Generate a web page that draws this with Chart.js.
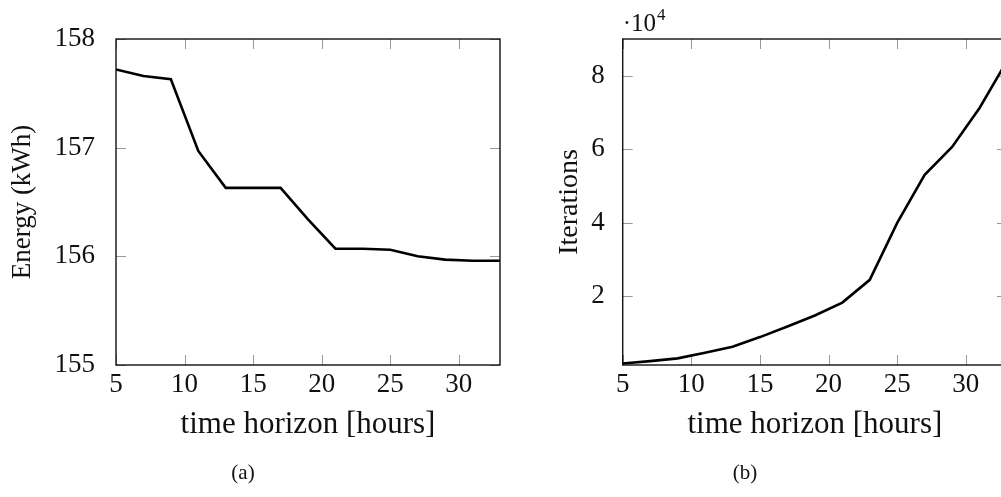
<!DOCTYPE html>
<html>
<head>
<meta charset="utf-8">
<script src="https://cdn.jsdelivr.net/npm/chart.js@4.4.1/dist/chart.umd.min.js"></script>
<style>
  html, body { margin: 0; padding: 0; background: #fff; overflow: hidden; width: 1001px; height: 497px; }
  .box { position: absolute; top: 0; }
  .cap { position: absolute; font-family: "Liberation Serif", serif; font-size: 21px; color: #111; text-align: center; width: 80px; top: 460px; line-height: 24px; }
</style>
</head>
<body>
<div class="box" style="left:0px;width:520px;height:497px;"><canvas id="ca" width="520" height="497"></canvas></div>
<div class="box" style="left:540px;width:480px;height:497px;"><canvas id="cb" width="480" height="497"></canvas></div>
<div class="cap" style="left:203px;">(a)</div>
<div class="cap" style="left:705px;">(b)</div>
<script>
// ---- data ----
const horizons = [5, 7, 9, 11, 13, 15, 17, 19, 21, 23, 25, 27, 29, 31, 33];
const energy = [157.72, 157.66, 157.63, 156.97, 156.63, 156.63, 156.63, 156.34, 156.07, 156.07, 156.06, 156.00, 155.97, 155.96, 155.96];
const iterations = [1600, 2250, 3000, 4550, 6150, 8800, 11700, 14700, 18200, 24400, 39900, 53000, 60600, 71200, 84000];
const xTicks = [5, 10, 15, 20, 25, 30];
const energyTicks = [155, 156, 157, 158];
const iterTicks = [20000, 40000, 60000, 80000];
const xTitle = "time horizon [hours]";
const energyTitle = "Energy (kWh)";
const iterTitle = "Iterations";

const SERIF = '"Liberation Serif", "DejaVu Serif", serif';

const framePlugin = {
  id: 'frame',
  beforeDatasetsDraw(chart) {
    const {ctx, chartArea: a, scales} = chart;
    const L = 10;
    ctx.save();
    ctx.strokeStyle = '#9a9a9a';
    ctx.lineWidth = 1;
    ctx.beginPath();
    scales.x.ticks.forEach(t => {
      const px = Math.round(scales.x.getPixelForValue(t.value)) + 0.5;
      ctx.moveTo(px, a.bottom); ctx.lineTo(px, a.bottom - L);
      ctx.moveTo(px, a.top); ctx.lineTo(px, a.top + L);
    });
    scales.y.ticks.forEach(t => {
      const py = Math.round(scales.y.getPixelForValue(t.value)) + 0.5;
      ctx.moveTo(a.left, py); ctx.lineTo(a.left + L, py);
      ctx.moveTo(a.right, py); ctx.lineTo(a.right - L, py);
    });
    ctx.stroke();
    ctx.restore();
  },
  afterDatasetsDraw(chart, args, opts) {
    const {ctx, chartArea: a} = chart;
    ctx.save();
    ctx.strokeStyle = '#111';
    ctx.lineWidth = 1.4;
    ctx.strokeRect(a.left, a.top, a.right - a.left, a.bottom - a.top);
    if (opts && opts.multiplier) {
      ctx.fillStyle = '#111';
      ctx.textBaseline = 'alphabetic';
      ctx.textAlign = 'left';
      ctx.font = '25px ' + SERIF;
      const base = 31;
      let x = a.left;
      ctx.fillText('·10', x, base);
      x += ctx.measureText('·10').width + 1;
      ctx.font = '17px ' + SERIF;
      ctx.fillText('4', x, base - 11);
    }
    ctx.restore();
  }
};

function makeChart(id, values, ymin, ymax, yTickVals, yTitle, yFmt, yAxisWidth, padRight, yTitlePad, yTitleSize, yTickPad, multiplier) {
  return new Chart(document.getElementById(id), {
    type: 'line',
    data: {
      datasets: [{
        data: horizons.map((h, i) => ({x: h, y: values[i]})),
        borderColor: '#000',
        borderWidth: 2.6,
        pointRadius: 0,
        tension: 0,
        fill: false
      }]
    },
    plugins: [framePlugin],
    options: {
      responsive: false,
      animation: false,
      devicePixelRatio: 1,
      layout: { padding: { top: 39, right: padRight, left: 0, bottom: 0 } },
      plugins: {
        legend: { display: false },
        tooltip: { enabled: false },
        frame: { multiplier: multiplier }
      },
      scales: {
        x: {
          type: 'linear', min: 5, max: 33,
          afterBuildTicks: s => { s.ticks = xTicks.map(v => ({value: v})); },
          afterFit: s => { s.height = 497 - 365; },
          grid: { display: false },
          border: { display: false },
          ticks: { color: '#111', padding: -4, font: { family: SERIF, size: 27 }, maxRotation: 0 },
          title: { display: true, text: xTitle, color: '#111', font: { family: SERIF, size: 31 }, padding: { top: 0, bottom: 54 } }
        },
        y: {
          type: 'linear', min: ymin, max: ymax,
          afterBuildTicks: s => { s.ticks = yTickVals.map(v => ({value: v})); },
          afterFit: s => { s.width = yAxisWidth; },
          grid: { display: false },
          border: { display: false },
          ticks: { color: '#111', padding: yTickPad, font: { family: SERIF, size: 27 }, callback: yFmt },
          title: { display: true, text: yTitle, color: '#111', font: { family: SERIF, size: yTitleSize }, padding: { top: yTitlePad, bottom: 0 } }
        }
      }
    }
  });
}

makeChart('ca', energy, 155, 158, energyTicks, energyTitle, v => String(v), 116, 20, 7, 27, 13, false);
makeChart('cb', iterations, 1200, 90000, iterTicks, iterTitle, v => String(v / 10000), 82.7, 13, 13, 28, 10, true);
</script>
</body>
</html>
